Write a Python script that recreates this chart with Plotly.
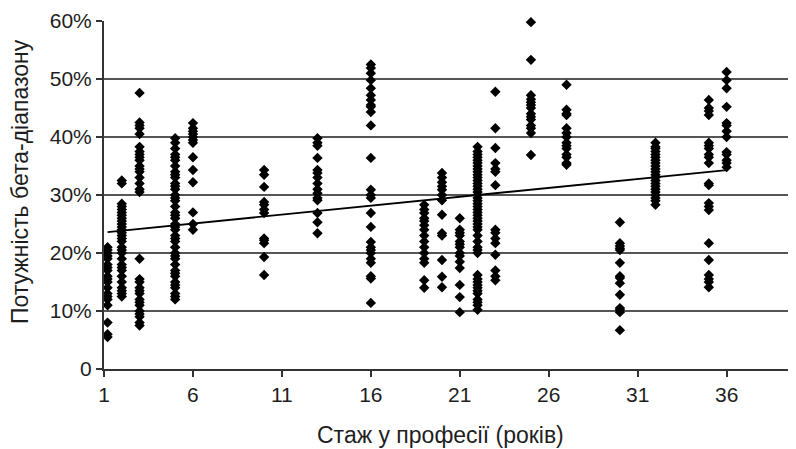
import plotly.graph_objects as go

# Years of experience (x positions of the point columns)
years = [1.2, 2, 3, 5, 6, 10, 13, 16, 19, 20, 21, 22, 23, 25, 27, 30, 32, 35, 36]

# Beta-band power values (%) for each column
v01 = [21, 20.5, 20, 19.5, 19, 18, 17.5, 17, 16, 15.5, 15, 14, 13, 12.5, 12, 11, 8, 6, 5.5]
v02 = [32.5, 32, 28.5, 28, 27.5, 27, 26.5, 26, 25.5, 25, 24.5, 24, 23.5, 23, 22.5, 22, 21,
       20.5, 20, 19, 18, 17.5, 17, 16, 15, 14, 13.5, 13, 12.5]
v03 = [47.6, 42.5, 42, 41.5, 40.5, 38.3, 37.5, 37, 36.5, 36, 35, 34.5, 34, 33, 32, 31, 30.5,
       19, 15.5, 15, 14, 13.5, 13, 12, 11.5, 11, 10, 9.5, 9, 8, 7.5]
v05 = [39.8, 39, 38, 37, 36.5, 36, 35, 34, 33.5, 33, 32, 31.5, 31, 30, 29.5, 29, 28, 27, 26.5,
       26, 25, 24.5, 24, 23, 22.5, 22, 21, 20, 19.5, 19, 18, 17, 16.5, 16, 15, 14.5, 14, 13,
       12.5, 12]
v06 = [42.4, 41.5, 41, 40.5, 40, 39.5, 39, 36.5, 34.3, 32.2, 27, 25, 24]
v10 = [34.3, 33.5, 31.4, 28.8, 28.3, 27.5, 26.9, 22.5, 22.2, 21.7, 19.3, 16.2]
v13 = [39.8, 39, 38.5, 36.4, 34.3, 33.8, 33, 32, 31, 30.3, 29.5, 29.1, 26.9, 25.3, 23.4]
v16 = [52.5, 51.9, 51, 49.8, 48.4, 47.2, 46.4, 45.5, 45.2, 44.3, 42, 36.4, 30.9, 30, 29.5,
       26.9, 24.5, 21.9, 21, 20.5, 20, 19, 18.3, 16, 15.6, 11.4]
v19 = [28.3, 27.5, 26.9, 26, 25.5, 24.8, 24, 23, 22, 21, 20, 19, 18.3, 15.3, 14]
v20 = [33.8, 33, 32.2, 31.5, 30.9, 30, 29.1, 26.6, 23.4, 23, 18.8, 15.9, 14.1]
v21 = [26, 24, 23.5, 23, 22, 21.5, 21, 20, 19.5, 18.5, 17.4, 14.5, 12.4, 9.8]
v22 = [38.3, 37.5, 37, 36.5, 36, 35.5, 35, 34.5, 34, 33.5, 33, 32.5, 32, 31.5, 31, 30.5, 30,
       29.5, 29, 28.5, 28, 27.5, 27, 26.5, 26, 25.5, 25, 24.5, 24, 23, 22, 21, 20.5, 20, 16.2,
       15.5, 15, 14.5, 14, 13.5, 13, 12, 11.5, 11, 10.2]
v23 = [47.8, 41.5, 38.1, 35.5, 34.5, 34, 31.7, 24, 23.5, 22.5, 21.7, 19.7, 17, 16, 15.3]
v25 = [59.8, 53.3, 47.2, 46.5, 46, 45.5, 45, 44, 43.5, 43, 42, 41.5, 40.7, 36.9]
v27 = [49, 44.7, 44, 43.8, 41.5, 40.7, 40, 39, 38.5, 38, 37, 36.5, 35.5, 35.2]
v30 = [25.3, 21.7, 21.2, 20.8, 20.5, 18.3, 16, 15.7, 14.8, 12.8, 10.5, 10.2, 9.8, 6.7]
v32 = [39, 38.3, 38, 37.5, 37, 36.5, 36, 35.5, 35, 34.5, 34, 33.5, 33, 32.5, 32, 31.5, 31,
       30.5, 30, 29.5, 29, 28.3]
v35 = [46.4, 45, 44.5, 43.8, 39, 38.5, 38, 37, 36.5, 35.5, 32, 31.7, 28.6, 28, 27.4, 21.7,
       18.8, 16.2, 15.5, 15, 14.1]
v36 = [51.2, 49.8, 48.4, 45.2, 42.4, 42, 41, 40, 37.4, 37, 36, 35.5, 34.8]

columns = [v01, v02, v03, v05, v06, v10, v13, v16, v19, v20, v21, v22, v23, v25, v27,
           v30, v32, v35, v36]

# Linear trend line
trend_x = [1.2, 36]
trend_y = [23.6, 34.3]

# Axis ticks
x_ticks = [1, 6, 11, 16, 21, 26, 31, 36]
y_ticks = [0, 10, 20, 30, 40, 50, 60]
y_ticktext = ["0", "10%", "20%", "30%", "40%", "50%", "60%"]

x_title = "Стаж у професії (років)"
y_title = "Потужність бета-діапазону"

xs, ys = [], []
for yr, col in zip(years, columns):
    xs.extend([yr] * len(col))
    ys.extend(col)

FONT = "Liberation Sans, Arial, Helvetica, sans-serif"
TXT = "#1e1e1e"

# figure is drawn inside the page with an 8px body margin
W, H, L, R, T, B = 788, 441, 96, 0, 13, 80

fig = go.Figure()
fig.add_trace(go.Scatter(
    x=xs, y=ys, mode="markers",
    marker=dict(symbol="diamond", size=8, color="black", line=dict(width=0)),
    cliponaxis=False, showlegend=False,
))
fig.add_trace(go.Scatter(
    x=trend_x, y=trend_y, mode="lines",
    line=dict(color="black", width=1.8),
    showlegend=False,
))


def px_to_paper(px, py):
    return (px - L) / (W - L - R), (H - py - B) / (H - T - B)


xt_x, xt_y = px_to_paper(432, 427)
yt_x, yt_y = px_to_paper(12, 174)

fig.update_layout(
    width=W, height=H,
    margin=dict(l=L, r=R, t=T, b=B, autoexpand=False),
    paper_bgcolor="white", plot_bgcolor="white",
    font=dict(family=FONT, size=21, color=TXT),
    annotations=[
        dict(text=x_title, x=xt_x, y=xt_y, xref="paper", yref="paper",
             showarrow=False, font=dict(size=23, color=TXT), borderpad=0,
             xanchor="center", yanchor="middle"),
        dict(text=y_title, x=yt_x, y=yt_y, xref="paper", yref="paper",
             showarrow=False, font=dict(size=23, color=TXT), textangle=-90, borderpad=0,
             xanchor="center", yanchor="middle"),
    ],
)

fig.update_xaxes(
    range=[1, 39.9], tickvals=x_ticks, ticks="outside", ticklen=6, tickwidth=1.5,
    tickcolor="#333", showline=True, linecolor="#333", linewidth=2,
    showgrid=False, zeroline=False, automargin=False,
    tickfont=dict(size=21, color=TXT),
)
fig.update_yaxes(
    range=[0, 60], tickvals=y_ticks, ticktext=y_ticktext, ticks="outside", ticklen=6,
    tickwidth=1.5, tickcolor="#333", showline=True, linecolor="#333", linewidth=2,
    showgrid=True, gridcolor="#555", gridwidth=2, zeroline=False, automargin=False,
    tickfont=dict(size=21, color=TXT),
)

fig.write_html("out.html")
